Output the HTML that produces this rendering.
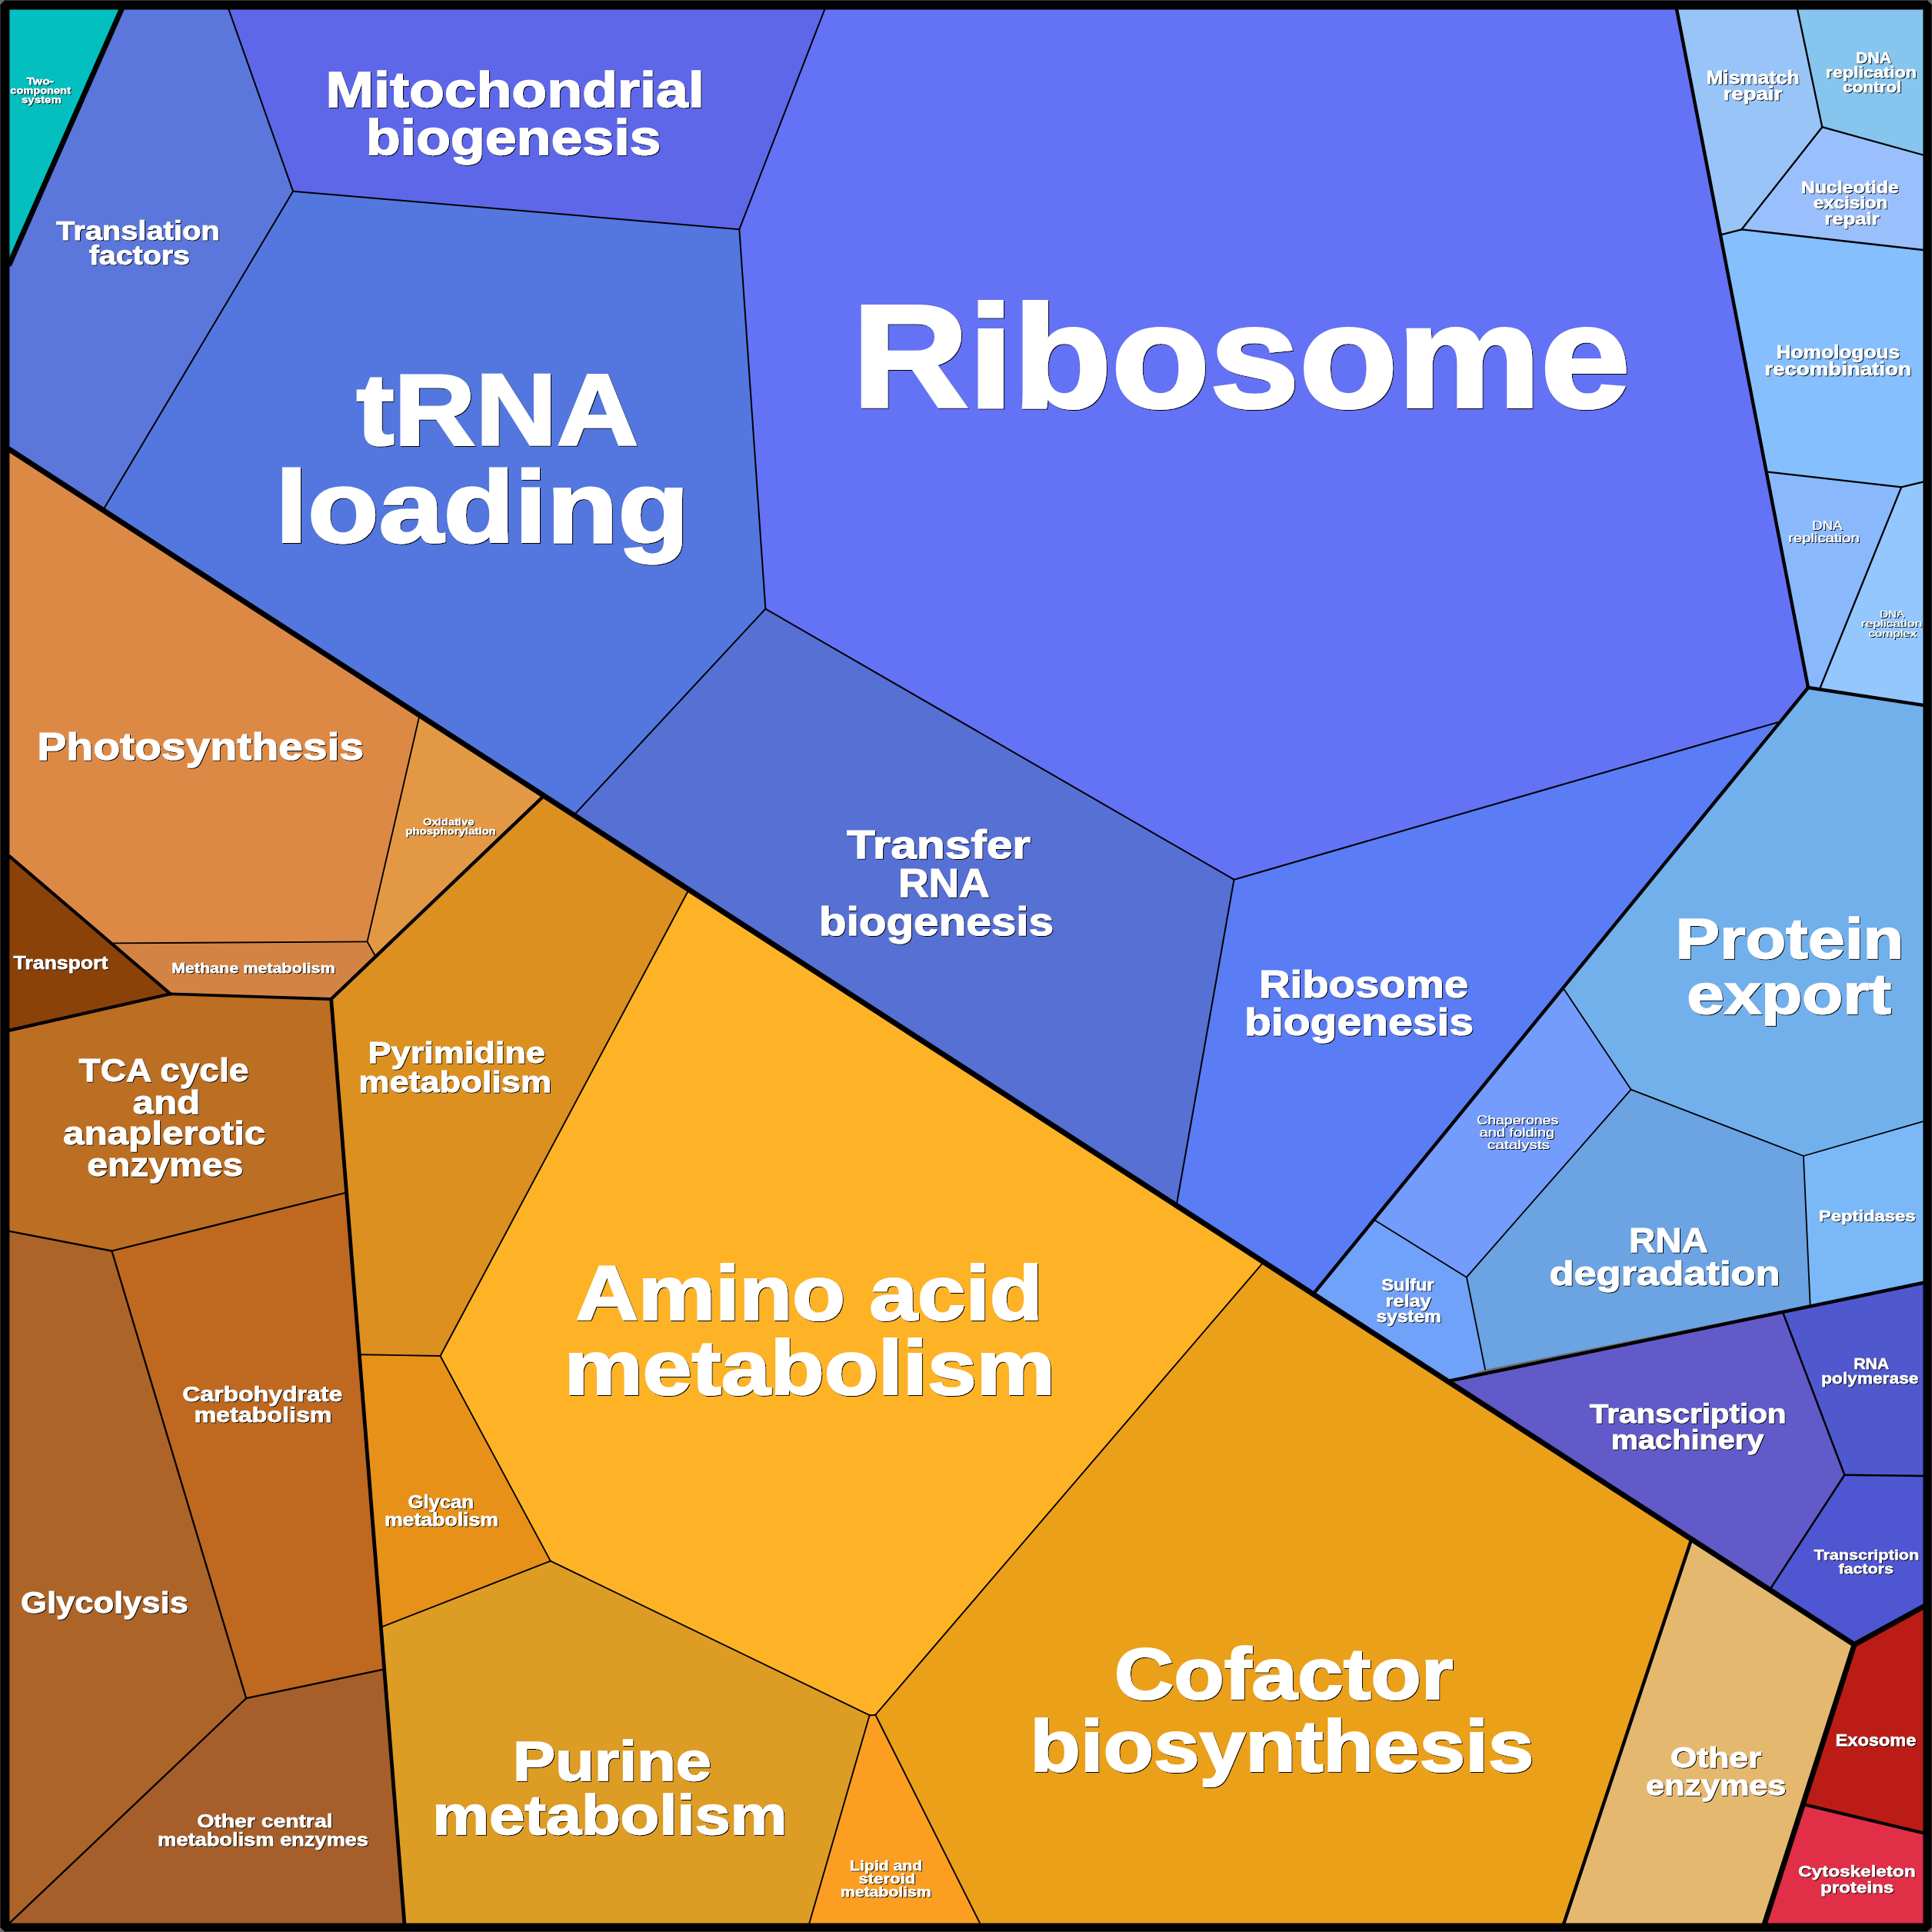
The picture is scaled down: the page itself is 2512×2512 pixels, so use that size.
<!DOCTYPE html>
<html><head><meta charset="utf-8"><title>Proteomap</title>
<style>html,body{margin:0;padding:0;background:#000}svg{display:block}text{font-family:"Liberation Sans",sans-serif;font-weight:bold;fill:#fff;stroke:#fff}text.r{font-weight:normal}</style></head><body>
<svg width="2512" height="2512" viewBox="0 0 2512 2512">
<defs><filter id="f" x="-5%" y="-20%" width="110%" height="140%"><feOffset in="SourceAlpha" dx="1.3" dy="1.3" result="o"/><feMerge><feMergeNode in="o"/><feMergeNode in="SourceGraphic"/></feMerge></filter></defs>
<rect width="2512" height="2512" fill="#6a6a6a"/>
<g stroke-width="1" stroke-linejoin="round">
<polygon fill="#04BFBF" stroke="#04BFBF" points="12.4,12.4 157.9,12.4 12.4,343.0"/>
<polygon fill="#5B77DC" stroke="#5B77DC" points="157.9,12.4 297.4,12.4 381.0,248.7 134.0,663.3 12.4,584.5 12.4,343.0"/>
<polygon fill="#5D67E8" stroke="#5D67E8" points="297.4,12.4 1072.2,12.4 961.3,298.2 381.0,248.7"/>
<polygon fill="#5377DE" stroke="#5377DE" points="381.0,248.7 961.3,298.2 995.3,791.6 746.0,1060.1 134.0,663.3"/>
<polygon fill="#6472F5" stroke="#6472F5" points="1072.2,12.4 2180.1,12.4 2351.0,894.0 2311.2,939.2 1604.5,1143.7 995.3,791.6 961.3,298.2"/>
<polygon fill="#5670D4" stroke="#5670D4" points="995.3,791.6 1604.5,1143.7 1529.5,1568.0 746.0,1060.1"/>
<polygon fill="#5A7CF4" stroke="#5A7CF4" points="1604.5,1143.7 2311.2,939.2 1707.0,1683.1 1529.5,1568.0"/>
<polygon fill="#98C4F7" stroke="#98C4F7" points="2180.1,12.4 2337.1,12.4 2369.2,165.2 2264.5,298.3 2238.0,305.1"/>
<polygon fill="#85C5EE" stroke="#85C5EE" points="2337.1,12.4 2500.4,12.4 2500.4,201.5 2369.2,165.2"/>
<polygon fill="#99C0FC" stroke="#99C0FC" points="2369.2,165.2 2500.4,201.5 2500.4,325.0 2264.5,298.3"/>
<polygon fill="#85BFFD" stroke="#85BFFD" points="2238.0,305.1 2264.5,298.3 2500.4,325.0 2500.4,626.7 2472.2,633.4 2298.8,613.7"/>
<polygon fill="#8AB8FD" stroke="#8AB8FD" points="2298.8,613.7 2472.2,633.4 2366.0,895.8 2351.0,894.0"/>
<polygon fill="#93C7FD" stroke="#93C7FD" points="2472.2,633.4 2500.4,626.7 2500.4,916.8 2366.0,895.8"/>
<polygon fill="#72B0EC" stroke="#72B0EC" points="2351.0,894.0 2500.4,916.8 2500.4,1458.2 2344.9,1503.0 2120.6,1416.6 2033.0,1285.4 2311.2,939.2"/>
<polygon fill="#739CFC" stroke="#739CFC" points="2033.0,1285.4 2120.6,1416.6 1906.9,1660.7 1788.3,1587.1"/>
<polygon fill="#6BA3E3" stroke="#6BA3E3" points="2120.6,1416.6 2344.9,1503.0 2353.6,1696.2 1931.0,1780.4 1906.9,1660.7"/>
<polygon fill="#7AB8F8" stroke="#7AB8F8" points="2344.9,1503.0 2500.4,1458.2 2500.4,1668.0 2353.6,1696.2"/>
<polygon fill="#70A2FA" stroke="#70A2FA" points="1788.3,1587.1 1906.9,1660.7 1931.0,1780.4 1881.4,1796.2 1707.0,1683.1"/>
<polygon fill="#625AC8" stroke="#625AC8" points="1881.4,1796.2 2318.1,1706.5 2398.3,1917.7 2300.5,2067.9"/>
<polygon fill="#5058CE" stroke="#5058CE" points="2318.1,1706.5 2500.4,1668.0 2500.4,1919.0 2398.3,1917.7"/>
<polygon fill="#4F56D2" stroke="#4F56D2" points="2398.3,1917.7 2500.4,1919.0 2500.4,2089.2 2411.0,2138.4 2300.5,2067.9"/>
<polygon fill="#DD8946" stroke="#DD8946" points="12.4,584.5 545.5,930.1 477.5,1224.4 147.9,1226.4 12.4,1113.4"/>
<polygon fill="#E39944" stroke="#E39944" points="545.5,930.1 707.0,1034.8 487.6,1242.2 477.5,1224.4"/>
<polygon fill="#D38444" stroke="#D38444" points="147.9,1226.4 477.5,1224.4 487.6,1242.2 430.6,1299.0 221.7,1292.3"/>
<polygon fill="#8B4208" stroke="#8B4208" points="12.4,1113.4 221.7,1292.3 12.4,1339.6"/>
<polygon fill="#BC6E22" stroke="#BC6E22" points="12.4,1339.6 221.7,1292.3 430.6,1299.0 448.8,1551.0 145.4,1626.5 12.4,1600.9"/>
<polygon fill="#AD6428" stroke="#AD6428" points="12.4,1600.9 145.4,1626.5 320.1,2208.2 12.4,2500.4"/>
<polygon fill="#BE6820" stroke="#BE6820" points="145.4,1626.5 448.8,1551.0 498.2,2170.7 320.1,2208.2"/>
<polygon fill="#A65F2A" stroke="#A65F2A" points="320.1,2208.2 498.2,2170.7 525.8,2500.4 12.4,2500.4"/>
<polygon fill="#DB9020" stroke="#DB9020" points="430.6,1299.0 707.0,1034.8 895.5,1157.0 572.5,1763.0 468.1,1761.2"/>
<polygon fill="#FDB325" stroke="#FDB325" points="895.5,1157.0 1642.5,1641.3 1138.3,2229.7 1130.6,2230.2 715.8,2029.6 572.5,1763.0"/>
<polygon fill="#E79119" stroke="#E79119" points="468.1,1761.2 572.5,1763.0 715.8,2029.6 496.3,2115.4"/>
<polygon fill="#DD9C24" stroke="#DD9C24" points="496.3,2115.4 715.8,2029.6 1130.6,2230.2 1052.3,2500.4 525.8,2500.4"/>
<polygon fill="#FB9E21" stroke="#FB9E21" points="1130.6,2230.2 1138.3,2229.7 1274.0,2500.4 1052.3,2500.4"/>
<polygon fill="#EBA019" stroke="#EBA019" points="1642.5,1641.3 2199.0,2002.1 2033.5,2500.4 1274.0,2500.4 1138.3,2229.7"/>
<polygon fill="#E5B870" stroke="#E5B870" points="2199.0,2002.1 2411.0,2138.4 2294.6,2500.4 2033.5,2500.4"/>
<polygon fill="#BC1C16" stroke="#BC1C16" points="2411.0,2138.4 2500.4,2089.2 2500.4,2383.3 2348.0,2346.8"/>
<polygon fill="#E02F47" stroke="#E02F47" points="2348.0,2346.8 2500.4,2383.3 2500.4,2500.4 2294.6,2500.4"/>
</g>
<g fill="none" stroke="#000" stroke-linecap="round" stroke-linejoin="round">
<polyline stroke-width="1.8" points="2033.0,1285.4 2120.6,1416.6"/>
<polyline stroke-width="1.8" points="2120.6,1416.6 2344.9,1503.0"/>
<polyline stroke-width="1.8" points="2344.9,1503.0 2500.4,1458.2"/>
<polyline stroke-width="1.8" points="2344.9,1503.0 2353.6,1696.2"/>
<polyline stroke-width="1.8" points="2120.6,1416.6 1906.9,1660.7"/>
<polyline stroke-width="1.8" points="1788.3,1587.1 1906.9,1660.7"/>
<polyline stroke-width="1.8" points="1906.9,1660.7 1931.0,1780.4"/>
<polyline stroke-width="1.9" points="545.5,930.1 477.5,1224.4"/>
<polyline stroke-width="1.9" points="147.9,1226.4 477.5,1224.4"/>
<polyline stroke-width="1.9" points="477.5,1224.4 487.6,1242.2"/>
<polyline stroke-width="1.9" points="895.5,1157.0 572.5,1763.0"/>
<polyline stroke-width="1.9" points="468.1,1761.2 572.5,1763.0"/>
<polyline stroke-width="1.9" points="572.5,1763.0 715.8,2029.6"/>
<polyline stroke-width="1.9" points="496.3,2115.4 715.8,2029.6"/>
<polyline stroke-width="1.9" points="715.8,2029.6 1130.6,2230.2"/>
<polyline stroke-width="1.9" points="1130.6,2230.2 1138.3,2229.7"/>
<polyline stroke-width="1.9" points="1138.3,2229.7 1642.5,1641.3"/>
<polyline stroke-width="1.9" points="1130.6,2230.2 1052.3,2500.4"/>
<polyline stroke-width="1.9" points="1138.3,2229.7 1274.0,2500.4"/>
<polyline stroke-width="2.0" points="297.4,12.4 381.0,248.7"/>
<polyline stroke-width="2.0" points="381.0,248.7 961.3,298.2"/>
<polyline stroke-width="2.0" points="1072.2,12.4 961.3,298.2"/>
<polyline stroke-width="2.0" points="381.0,248.7 134.0,663.3"/>
<polyline stroke-width="2.0" points="961.3,298.2 995.3,791.6"/>
<polyline stroke-width="2.0" points="995.3,791.6 746.0,1060.1"/>
<polyline stroke-width="2.0" points="995.3,791.6 1604.5,1143.7"/>
<polyline stroke-width="2.0" points="1604.5,1143.7 2311.2,939.2"/>
<polyline stroke-width="2.0" points="1604.5,1143.7 1529.5,1568.0"/>
<polyline stroke-width="2.3" points="2337.1,12.4 2369.2,165.2"/>
<polyline stroke-width="2.3" points="2369.2,165.2 2500.4,201.5"/>
<polyline stroke-width="2.3" points="2369.2,165.2 2264.5,298.3"/>
<polyline stroke-width="2.3" points="2238.0,305.1 2264.5,298.3"/>
<polyline stroke-width="2.3" points="2264.5,298.3 2500.4,325.0"/>
<polyline stroke-width="2.3" points="2298.8,613.7 2472.2,633.4"/>
<polyline stroke-width="2.3" points="2472.2,633.4 2500.4,626.7"/>
<polyline stroke-width="2.3" points="2472.2,633.4 2366.0,895.8"/>
<polyline stroke-width="2.3" points="448.8,1551.0 145.4,1626.5"/>
<polyline stroke-width="2.3" points="12.4,1600.9 145.4,1626.5"/>
<polyline stroke-width="2.3" points="145.4,1626.5 320.1,2208.2"/>
<polyline stroke-width="2.3" points="320.1,2208.2 498.2,2170.7"/>
<polyline stroke-width="2.3" points="320.1,2208.2 12.4,2500.4"/>
<polyline stroke-width="2.4" points="2398.3,1917.7 2500.4,1919.0"/>
<polyline stroke-width="2.5" points="2318.1,1706.5 2398.3,1917.7"/>
<polyline stroke-width="2.5" points="2398.3,1917.7 2300.5,2067.9"/>
<polyline stroke-width="3.8" points="221.7,1292.3 430.6,1299.0"/>
<polyline stroke-width="4.2" points="12.4,1113.4 221.7,1292.3"/>
<polyline stroke-width="4.2" points="12.4,1339.6 221.7,1292.3"/>
<polyline stroke-width="4.2" points="2348.0,2346.8 2500.4,2383.3"/>
<polyline stroke-width="4.4" points="2180.1,12.4 2351.0,894.0"/>
<polyline stroke-width="4.4" points="2351.0,894.0 2500.4,916.8"/>
<polyline stroke-width="4.4" points="2351.0,894.0 1707.0,1683.1"/>
<polyline stroke-width="4.4" points="1881.4,1796.2 2500.4,1668.0"/>
<polyline stroke-width="4.4" points="430.6,1299.0 707.0,1034.8"/>
<polyline stroke-width="4.4" points="2199.0,2002.1 2033.5,2500.4"/>
<polyline stroke-width="4.8" points="430.6,1299.0 525.8,2500.4"/>
<polyline stroke-width="7.0" points="157.9,12.4 12.4,343.0"/>
<polyline stroke-width="7.0" points="12.4,584.5 2411.0,2138.4"/>
<polyline stroke-width="7.0" points="2411.0,2138.4 2500.4,2089.2"/>
<polyline stroke-width="7.0" points="2411.0,2138.4 2294.6,2500.4"/>
</g>
<path fill="#000" fill-rule="evenodd" d="M6.0 0.4 L2506.0 0.4 L2511.6 6.0 L2511.6 2506.0 L2506.0 2511.6 L6.0 2511.6 L0.4 2506.0 L0.4 6.0Z M12.4 12.4 V2500.4 H2500.4 V12.4Z"/>
<text class="b" filter="url(#f)" font-size="13.1" stroke-width="0.28">
<tspan x="34.4" y="110.4" textLength="35.7" lengthAdjust="spacingAndGlyphs">Two-</tspan>
<tspan x="13.3" y="121.8" textLength="78.5" lengthAdjust="spacingAndGlyphs">component</tspan>
<tspan x="28.0" y="134.2" textLength="51.8" lengthAdjust="spacingAndGlyphs">system</tspan>
</text>
<text class="b" filter="url(#f)" font-size="34.3" stroke-width="0.74">
<tspan x="73.0" y="311.6" textLength="212.6" lengthAdjust="spacingAndGlyphs">Translation</tspan>
<tspan x="115.7" y="344.1" textLength="131.2" lengthAdjust="spacingAndGlyphs">factors</tspan>
</text>
<text class="b" filter="url(#f)" font-size="64.8" stroke-width="1.40">
<tspan x="423.6" y="138.5" textLength="491.9" lengthAdjust="spacingAndGlyphs">Mitochondrial</tspan>
<tspan x="475.7" y="201.2" textLength="383.8" lengthAdjust="spacingAndGlyphs">biogenesis</tspan>
</text>
<text class="b" filter="url(#f)" font-size="131.3" stroke-width="2.83">
<tspan x="463.4" y="577.8" textLength="361.2" lengthAdjust="spacingAndGlyphs">tRNA</tspan>
<tspan x="358.0" y="705.2" textLength="537.8" lengthAdjust="spacingAndGlyphs">loading</tspan>
</text>
<text class="b" filter="url(#f)" font-size="188.6" stroke-width="4.07">
<tspan x="1108.1" y="528.7" textLength="1011.4" lengthAdjust="spacingAndGlyphs">Ribosome</tspan>
</text>
<text class="b" filter="url(#f)" font-size="50.3" stroke-width="1.08">
<tspan x="48.3" y="988.3" textLength="424.7" lengthAdjust="spacingAndGlyphs">Photosynthesis</tspan>
</text>
<text class="b" filter="url(#f)" font-size="12.8" stroke-width="0.28">
<tspan x="549.9" y="1072.6" textLength="66.5" lengthAdjust="spacingAndGlyphs">Oxidative</tspan>
<tspan x="527.2" y="1084.7" textLength="117.6" lengthAdjust="spacingAndGlyphs">phosphorylation</tspan>
</text>
<text class="b" filter="url(#f)" font-size="23.1" stroke-width="0.50">
<tspan x="17.6" y="1259.8" textLength="122.7" lengthAdjust="spacingAndGlyphs">Transport</tspan>
</text>
<text class="b" filter="url(#f)" font-size="18.4" stroke-width="0.40">
<tspan x="222.9" y="1265.3" textLength="212.8" lengthAdjust="spacingAndGlyphs">Methane metabolism</tspan>
</text>
<text class="b" filter="url(#f)" font-size="23.0" stroke-width="0.50">
<tspan x="2218.5" y="109.3" textLength="121.0" lengthAdjust="spacingAndGlyphs">Mismatch</tspan>
<tspan x="2240.4" y="130.4" textLength="76.9" lengthAdjust="spacingAndGlyphs">repair</tspan>
</text>
<text class="b" filter="url(#f)" font-size="19.8" stroke-width="0.43">
<tspan x="2413.0" y="81.7" textLength="45.2" lengthAdjust="spacingAndGlyphs">DNA</tspan>
<tspan x="2373.7" y="101.2" textLength="118.3" lengthAdjust="spacingAndGlyphs">replication</tspan>
<tspan x="2395.9" y="120.0" textLength="76.5" lengthAdjust="spacingAndGlyphs">control</tspan>
</text>
<text class="b" filter="url(#f)" font-size="21.4" stroke-width="0.46">
<tspan x="2341.7" y="250.7" textLength="127.1" lengthAdjust="spacingAndGlyphs">Nucleotide</tspan>
<tspan x="2357.7" y="271.2" textLength="96.7" lengthAdjust="spacingAndGlyphs">excision</tspan>
<tspan x="2372.2" y="292.0" textLength="71.4" lengthAdjust="spacingAndGlyphs">repair</tspan>
</text>
<text class="b" filter="url(#f)" font-size="23.7" stroke-width="0.51">
<tspan x="2309.5" y="465.8" textLength="160.7" lengthAdjust="spacingAndGlyphs">Homologous</tspan>
<tspan x="2294.3" y="487.9" textLength="190.5" lengthAdjust="spacingAndGlyphs">recombination</tspan>
</text>
<text class="r" filter="url(#f)" font-size="15.9" stroke-width="0.19">
<tspan x="2356.0" y="689.0" textLength="38.6" lengthAdjust="spacingAndGlyphs">DNA</tspan>
<tspan x="2324.9" y="704.5" textLength="92.9" lengthAdjust="spacingAndGlyphs">replication</tspan>
</text>
<text class="r" filter="url(#f)" font-size="13.4" stroke-width="0.16">
<tspan x="2444.1" y="803.1" textLength="31.3" lengthAdjust="spacingAndGlyphs">DNA</tspan>
<tspan x="2419.7" y="815.4" textLength="79.4" lengthAdjust="spacingAndGlyphs">replication</tspan>
<tspan x="2429.4" y="827.9" textLength="62.8" lengthAdjust="spacingAndGlyphs">complex</tspan>
</text>
<text class="b" filter="url(#f)" font-size="73.9" stroke-width="1.59">
<tspan x="2178.6" y="1245.8" textLength="296.6" lengthAdjust="spacingAndGlyphs">Protein</tspan>
<tspan x="2193.3" y="1317.5" textLength="265.7" lengthAdjust="spacingAndGlyphs">export</tspan>
</text>
<text class="b" filter="url(#f)" font-size="42.1" stroke-width="0.91">
<tspan x="102.6" y="1406.4" textLength="220.7" lengthAdjust="spacingAndGlyphs">TCA cycle</tspan>
<tspan x="172.6" y="1448.0" textLength="87.4" lengthAdjust="spacingAndGlyphs">and</tspan>
<tspan x="82.0" y="1488.3" textLength="263.3" lengthAdjust="spacingAndGlyphs">anaplerotic</tspan>
<tspan x="113.3" y="1528.9" textLength="203.0" lengthAdjust="spacingAndGlyphs">enzymes</tspan>
</text>
<text class="b" filter="url(#f)" font-size="38.9" stroke-width="0.84">
<tspan x="478.6" y="1381.7" textLength="230.1" lengthAdjust="spacingAndGlyphs">Pyrimidine</tspan>
<tspan x="466.3" y="1419.7" textLength="250.7" lengthAdjust="spacingAndGlyphs">metabolism</tspan>
</text>
<text class="b" filter="url(#f)" font-size="99.2" stroke-width="2.14">
<tspan x="748.5" y="1716.0" textLength="607.0" lengthAdjust="spacingAndGlyphs">Amino acid</tspan>
<tspan x="733.4" y="1812.9" textLength="638.3" lengthAdjust="spacingAndGlyphs">metabolism</tspan>
</text>
<text class="b" filter="url(#f)" font-size="27.7" stroke-width="0.60">
<tspan x="237.2" y="1821.7" textLength="208.0" lengthAdjust="spacingAndGlyphs">Carbohydrate</tspan>
<tspan x="252.4" y="1849.0" textLength="179.1" lengthAdjust="spacingAndGlyphs">metabolism</tspan>
</text>
<text class="b" filter="url(#f)" font-size="23.0" stroke-width="0.50">
<tspan x="530.6" y="1961.4" textLength="85.3" lengthAdjust="spacingAndGlyphs">Glycan</tspan>
<tspan x="499.9" y="1983.5" textLength="148.1" lengthAdjust="spacingAndGlyphs">metabolism</tspan>
</text>
<text class="b" filter="url(#f)" font-size="39.6" stroke-width="0.85">
<tspan x="27.1" y="2097.1" textLength="217.6" lengthAdjust="spacingAndGlyphs">Glycolysis</tspan>
</text>
<text class="b" filter="url(#f)" font-size="71.8" stroke-width="1.55">
<tspan x="666.8" y="2315.3" textLength="258.1" lengthAdjust="spacingAndGlyphs">Purine</tspan>
<tspan x="562.2" y="2385.3" textLength="461.2" lengthAdjust="spacingAndGlyphs">metabolism</tspan>
</text>
<text class="b" filter="url(#f)" font-size="23.7" stroke-width="0.51">
<tspan x="256.3" y="2376.1" textLength="176.2" lengthAdjust="spacingAndGlyphs">Other central</tspan>
<tspan x="205.1" y="2399.5" textLength="273.8" lengthAdjust="spacingAndGlyphs">metabolism enzymes</tspan>
</text>
<text class="b" filter="url(#f)" font-size="18.5" stroke-width="0.40">
<tspan x="1104.8" y="2431.9" textLength="94.5" lengthAdjust="spacingAndGlyphs">Lipid and</tspan>
<tspan x="1116.4" y="2448.7" textLength="73.9" lengthAdjust="spacingAndGlyphs">steroid</tspan>
<tspan x="1092.8" y="2465.6" textLength="117.9" lengthAdjust="spacingAndGlyphs">metabolism</tspan>
</text>
<text class="b" filter="url(#f)" font-size="50.5" stroke-width="1.09">
<tspan x="1636.9" y="1296.9" textLength="272.2" lengthAdjust="spacingAndGlyphs">Ribosome</tspan>
<tspan x="1618.0" y="1345.5" textLength="298.0" lengthAdjust="spacingAndGlyphs">biogenesis</tspan>
</text>
<text class="r" filter="url(#f)" font-size="16.0" stroke-width="0.19">
<tspan x="1920.1" y="1462.4" textLength="106.1" lengthAdjust="spacingAndGlyphs">Chaperones</tspan>
<tspan x="1923.6" y="1478.4" textLength="97.5" lengthAdjust="spacingAndGlyphs">and folding</tspan>
<tspan x="1933.8" y="1494.3" textLength="81.2" lengthAdjust="spacingAndGlyphs">catalysts</tspan>
</text>
<text class="b" filter="url(#f)" font-size="20.9" stroke-width="0.45">
<tspan x="2364.8" y="1588.2" textLength="125.7" lengthAdjust="spacingAndGlyphs">Peptidases</tspan>
</text>
<text class="b" filter="url(#f)" font-size="44.5" stroke-width="0.96">
<tspan x="2117.9" y="1628.2" textLength="101.0" lengthAdjust="spacingAndGlyphs">RNA</tspan>
<tspan x="2014.4" y="1670.8" textLength="300.3" lengthAdjust="spacingAndGlyphs">degradation</tspan>
</text>
<text class="b" filter="url(#f)" font-size="21.2" stroke-width="0.46">
<tspan x="1796.3" y="1678.2" textLength="68.2" lengthAdjust="spacingAndGlyphs">Sulfur</tspan>
<tspan x="1801.4" y="1699.3" textLength="59.3" lengthAdjust="spacingAndGlyphs">relay</tspan>
<tspan x="1789.6" y="1719.1" textLength="84.1" lengthAdjust="spacingAndGlyphs">system</tspan>
</text>
<text class="b" filter="url(#f)" font-size="19.7" stroke-width="0.42">
<tspan x="2410.2" y="1779.7" textLength="45.2" lengthAdjust="spacingAndGlyphs">RNA</tspan>
<tspan x="2367.9" y="1798.5" textLength="126.6" lengthAdjust="spacingAndGlyphs">polymerase</tspan>
</text>
<text class="b" filter="url(#f)" font-size="35.0" stroke-width="0.75">
<tspan x="2066.8" y="1850.3" textLength="255.7" lengthAdjust="spacingAndGlyphs">Transcription</tspan>
<tspan x="2094.8" y="1884.4" textLength="198.4" lengthAdjust="spacingAndGlyphs">machinery</tspan>
</text>
<text class="b" filter="url(#f)" font-size="18.8" stroke-width="0.40">
<tspan x="2358.4" y="2028.2" textLength="136.7" lengthAdjust="spacingAndGlyphs">Transcription</tspan>
<tspan x="2390.4" y="2046.1" textLength="71.5" lengthAdjust="spacingAndGlyphs">factors</tspan>
</text>
<text class="b" filter="url(#f)" font-size="94.4" stroke-width="2.04">
<tspan x="1448.7" y="2209.4" textLength="440.9" lengthAdjust="spacingAndGlyphs">Cofactor</tspan>
<tspan x="1339.2" y="2302.6" textLength="655.3" lengthAdjust="spacingAndGlyphs">biosynthesis</tspan>
</text>
<text class="b" filter="url(#f)" font-size="37.8" stroke-width="0.82">
<tspan x="2171.8" y="2298.0" textLength="118.6" lengthAdjust="spacingAndGlyphs">Other</tspan>
<tspan x="2139.9" y="2334.4" textLength="182.5" lengthAdjust="spacingAndGlyphs">enzymes</tspan>
</text>
<text class="b" filter="url(#f)" font-size="21.5" stroke-width="0.46">
<tspan x="2386.6" y="2269.6" textLength="104.7" lengthAdjust="spacingAndGlyphs">Exosome</tspan>
</text>
<text class="b" filter="url(#f)" font-size="21.0" stroke-width="0.45">
<tspan x="2338.1" y="2440.2" textLength="152.4" lengthAdjust="spacingAndGlyphs">Cytoskeleton</tspan>
<tspan x="2366.9" y="2460.7" textLength="95.3" lengthAdjust="spacingAndGlyphs">proteins</tspan>
</text>
<text class="b" filter="url(#f)" font-size="51.7" stroke-width="1.12">
<tspan x="1101.0" y="1115.6" textLength="238.9" lengthAdjust="spacingAndGlyphs">Transfer</tspan>
<tspan x="1167.9" y="1166.2" textLength="116.6" lengthAdjust="spacingAndGlyphs">RNA</tspan>
<tspan x="1064.8" y="1215.7" textLength="305.1" lengthAdjust="spacingAndGlyphs">biogenesis</tspan>
</text>
</svg></body></html>
